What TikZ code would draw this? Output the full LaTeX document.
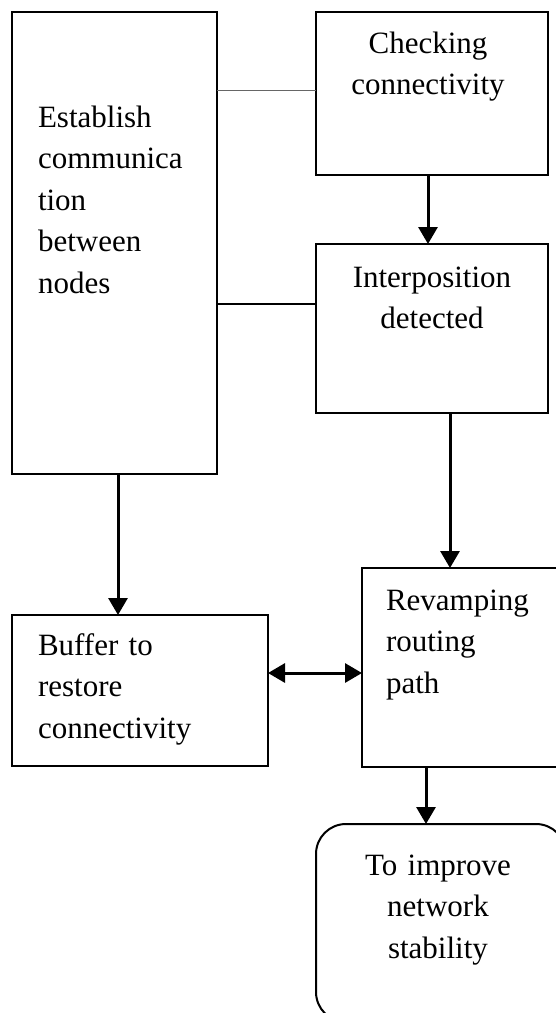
\documentclass[tikz,border=0pt]{standalone}
\usepackage{fontspec}
\setmainfont{Liberation Serif}
\usetikzlibrary{arrows.meta}
\begin{document}
\begin{tikzpicture}[x=1pt,y=-1pt,
  box/.style={draw,line width=2pt,rectangle,inner sep=0pt,outer sep=0pt,anchor=north west},
  rbox/.style={box,rounded corners=30pt},
  lbl/.style={font=\fontsize{31}{41.5}\selectfont,inner sep=0pt,outer sep=0pt},
  arr/.style={line width=3pt,-{Triangle[width=19pt,length=17pt]}},
  darr/.style={line width=3pt,{Triangle[width=19pt,length=17pt]}-{Triangle[width=19pt,length=17pt]}},
  link/.style={line width=2.5pt},
  thinlink/.style={line width=1pt,black!60}]
\useasboundingbox (0,0) rectangle (556,1013);
\clip (0,0) rectangle (556,1013);
% boxes
\node[box,minimum width=205pt,minimum height=462pt] (est) at (12,12) {};
\node[box,minimum width=232pt,minimum height=163pt] (chk) at (316,12) {};
\node[box,minimum width=232pt,minimum height=169pt] (intp) at (316,244) {};
\node[box,minimum width=208pt,minimum height=199pt] (rev) at (362,568) {};
\node[box,minimum width=256pt,minimum height=151pt] (buf) at (12,615) {};
\node[rbox,minimum width=250pt,minimum height=198pt] (fin) at (316,824) {};
% texts
\node[lbl,anchor=base west,text width=180pt,align=left] (tEst) at (38,127) {Establish\\communica\\tion\\between\\nodes};
\node[lbl,anchor=base,text width=220pt,align=center] (tChk) at (428,53) {Checking\\connectivity};
\node[lbl,anchor=base,text width=220pt,align=center] (tIntp) at (432,287) {Interposition\\detected};
\node[lbl,anchor=base west,text width=170pt,align=left] (tRev) at (386,610) {Revamping\\routing\\path};
\node[lbl,anchor=base west,text width=220pt,align=left] (tBuf) at (38,655) {Buffer to\\restore\\connectivity};
\node[lbl,anchor=base,text width=220pt,align=center] (tFin) at (438,875) {To improve\\network\\stability};
% connectors
\draw[thinlink] (est.east |- chk.west) ++(0,-3.5) coordinate (g1) -- (g1 -| chk.west);
\draw[link] ([yshift=24.5pt]intp.west) coordinate (b1) -- (b1 -| est.east);
\draw[arr] ([xshift=-4pt]chk.south) -- ([xshift=-4pt]intp.north);
\draw[arr] ([xshift=18pt]intp.south) coordinate (a2) -- (a2 |- rev.north);
\draw[arr] ([xshift=3.5pt]est.south) coordinate (a3) -- (a3 |- buf.north);
\draw[darr] ([yshift=17.5pt]buf.east) coordinate (a4) -- (a4 -| rev.west);
\draw[arr] ([xshift=-15pt]fin.north) coordinate (a5f) (a5f |- rev.south) coordinate (a5) -- (a5f);
\end{tikzpicture}
\end{document}
